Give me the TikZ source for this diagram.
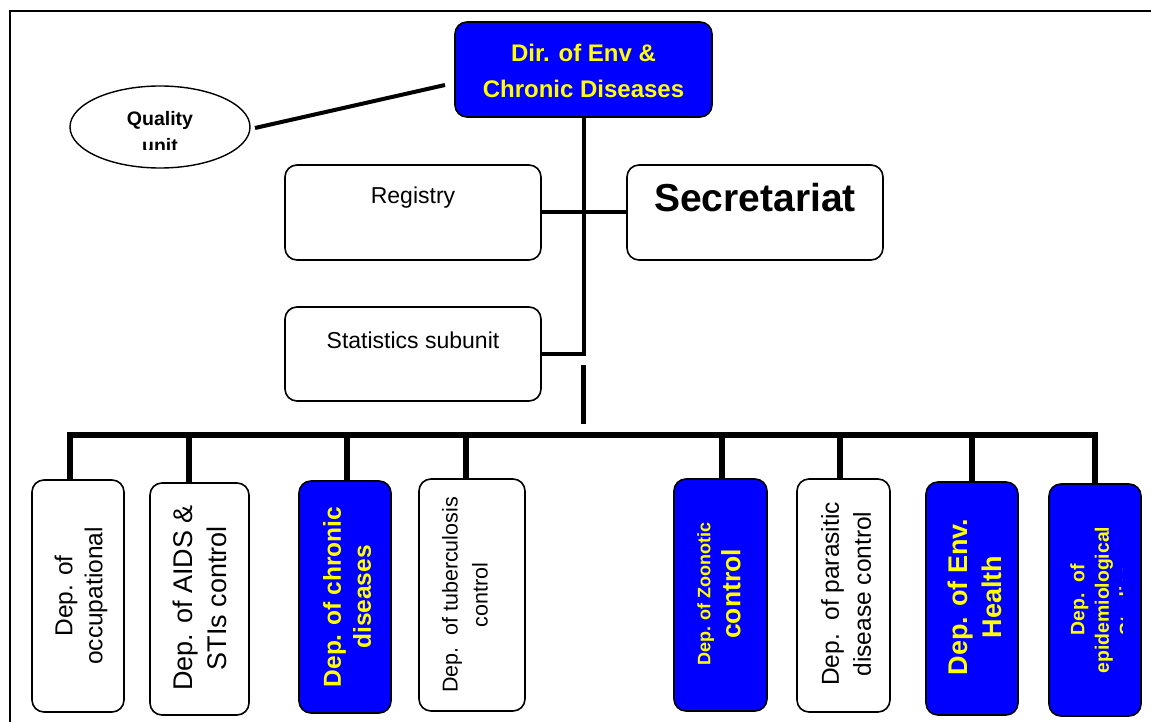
\documentclass[tikz,border=0pt]{standalone}
\usepackage{fontspec}
\setmainfont{Liberation Sans}
\usetikzlibrary{shapes.geometric}

\definecolor{deptblue}{RGB}{0,0,255}
\definecolor{labelyellow}{RGB}{255,255,0}
\newcommand\fsz[2]{\fontsize{#1pt}{#2pt}\selectfont}

\begin{document}
\begin{tikzpicture}[x=1pt,y=-1pt,
  box/.style={draw=black, line width=1.6pt, rounded corners=12pt, fill=white,
              inner sep=0pt, outer sep=0pt},
  bluebox/.style={box, fill=deptblue},
  vtext/.style={rotate=90, align=center, inner sep=0pt},
  bluetext/.style={text=labelyellow, font=\bfseries},
  link/.style={line width=4pt},
  busline/.style={line width=6pt, line join=miter},
  frameline/.style={line width=2pt},
]
\useasboundingbox (0,0) rectangle (1151,722);

% outer frame (top and left edges only)
\coordinate (fbl) at (9.5,722);
\coordinate (ftl) at (9.5,11.5);
\coordinate (ftr) at (1151,11.5);
\draw[frameline] (fbl) -- (ftl) -- (ftr);

% directorate
\node[bluebox, minimum width=257pt, minimum height=95pt] (dir) at (583.5,69.5) {};
\node[bluetext, align=center, inner sep=0pt, font=\bfseries\fsz{24}{36}] (dirtxt) at (583.5,71)
  {Dir. of Env \&\\Chronic Diseases};

% quality unit
\node[draw, ellipse, line width=1.4pt, minimum width=180pt, minimum height=82pt, inner sep=0pt] (q) at (160,127) {};
\begin{scope}
  \clip (70,80) rectangle (250,149.5);
  \node[align=center, inner sep=0pt, font=\bfseries\fsz{19.5}{27}] (qtxt) at (160,132.5) {Quality\\unit};
\end{scope}
\coordinate (qa) at (255,128);
\coordinate (qb) at (445,85);
\draw[link] (qa) -- (qb);

% staff units
\node[box, minimum width=256pt, minimum height=95pt] (reg) at (413,212.5) {};
\node[inner sep=0pt, font=\fsz{23}{28}] (regtxt) at (413,198) {Registry};
\node[box, minimum width=256pt, minimum height=95pt] (sec) at (755,212.5) {};
\node[inner sep=0pt, font=\bfseries\fsz{39}{44}] (sectxt) at (755,198) {Secretariat};
\node[box, minimum width=256pt, minimum height=94pt] (stat) at (413,354) {};
\node[inner sep=0pt, font=\fsz{23}{28}] (stattxt) at (413,340) {Statistics subunit};

\draw[link] (reg.east) -- (sec.west);
\draw[link, line join=miter] (dir.south) -- (dir.south |- stat.east) -- (stat.east);
\coordinate (s1) at (583,365);
\coordinate (s2) at (583,424);
\draw[line width=5pt] (s1) -- (s2);

% departments
\node[box,      minimum width=92pt,  minimum height=232pt] (o1) at (78,596) {};
\node[box,      minimum width=99pt,  minimum height=232pt] (o2) at (199.5,599) {};
\node[bluebox,  minimum width=92pt,  minimum height=232pt] (o3) at (345,597) {};
\node[box,      minimum width=106pt, minimum height=232pt] (o4) at (472,595) {};
\node[bluebox,  minimum width=93pt,  minimum height=232pt] (o5) at (720.5,595) {};
\node[box,      minimum width=93pt,  minimum height=233pt] (o6) at (843.5,595.5) {};
\node[bluebox,  minimum width=92pt,  minimum height=233pt] (o7) at (972,598.5) {};
\node[bluebox,  minimum width=92pt,  minimum height=232pt] (o8) at (1095,600) {};

\node[vtext, font=\fsz{24.5}{30}] (t1) at (81,596) {Dep. of\\occupational};
\node[vtext, font=\fsz{27}{34}] (t2) at (200,598) {Dep. of AIDS \&\\STIs control};
\node[vtext, bluetext, font=\bfseries\fsz{24.5}{30}] (t3) at (347,597) {Dep. of chronic\\diseases};
\node[vtext, font=\fsz{21.5}{30}] (t4) at (465,595) {Dep.\ \ of tuberculosis\\control};
\node[vtext, bluetext, font=\bfseries\fsz{18}{30}] (t5) at (719,594)
  {Dep. of Zoonotic\\{\fsz{26.5}{30}control}};
\node[vtext, font=\fsz{24.5}{32}] (t6) at (846,594) {Dep.\ \ of parasitic\\disease control};
\node[vtext, bluetext, font=\bfseries\fsz{27}{34}] (t7) at (975,597) {Dep. of Env.\\Health};
\begin{scope}
  \clip (1050,486) rectangle (1122,714);
  \node[vtext, bluetext, font=\bfseries\fsz{19.4}{24.5}] (t8) at (1102,600)
    {Dep.\ \ of\\epidemiological\\Studies};
\end{scope}

% distribution bus
\coordinate (b1) at (70,435);
\coordinate (b2) at (189,435);
\coordinate (b3) at (347,435);
\coordinate (b4) at (466,435);
\coordinate (b5) at (722,435);
\coordinate (b6) at (840,435);
\coordinate (b7) at (972,435);
\coordinate (b8) at (1095,435);
\draw[busline] (b1 |- o1.north) -- (b1) -- (b8) -- (b8 |- o8.north);
\foreach \i in {2,...,7} {
  \draw[busline] (b\i) -- (b\i |- o\i.north);
}
\end{tikzpicture}
\end{document}
